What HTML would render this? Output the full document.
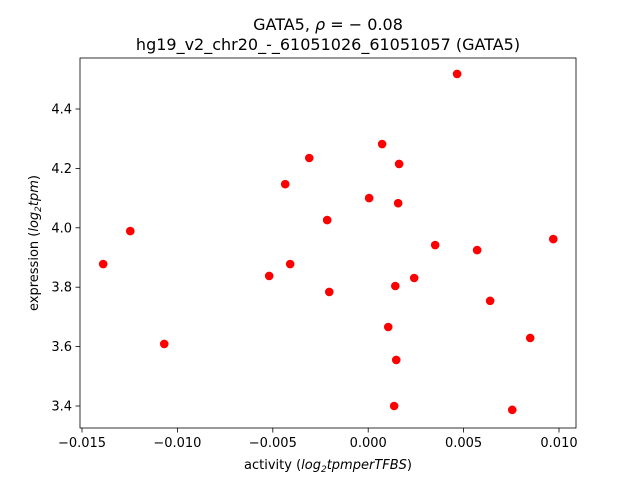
<!DOCTYPE html>
<html><head><meta charset="utf-8"><style>
html,body{margin:0;padding:0;background:#fff;}
svg{display:block;font-family:"DejaVu Sans","Liberation Sans",sans-serif;}
</style></head><body>
<svg id="chart" width="640" height="480">
<rect x="0" y="0" width="640" height="480" fill="#fff"/>
<text x="328" y="30" text-anchor="middle" font-size="16">GATA5, <tspan font-style="italic">ρ</tspan> = − 0.08</text>
<text x="328" y="50" text-anchor="middle" font-size="16">hg19_v2_chr20_-_61051026_61051057 (GATA5)</text>
<g id="ticks"></g>
<g id="points"></g>
<rect x="80" y="58" width="496" height="370" fill="none" stroke="#000" stroke-width="0.8"/>
<text x="328" y="469" text-anchor="middle" font-size="13">activity (<tspan font-style="italic">log</tspan><tspan font-size="9" dy="3" font-style="italic">2</tspan><tspan dy="-3" font-style="italic">tpmperTFBS</tspan>)</text>
<text transform="translate(38,243) rotate(-90)" text-anchor="middle" font-size="13">expression (<tspan font-style="italic">log</tspan><tspan font-size="9" dy="3" font-style="italic">2</tspan><tspan dy="-3" font-style="italic">tpm</tspan>)</text>
</svg>
<script>
const xTicks = [-0.015, -0.010, -0.005, 0.000, 0.005, 0.010];
const xTickLabels = ["−0.015", "−0.010", "−0.005", "0.000", "0.005", "0.010"];
const yTicks = [3.4, 3.6, 3.8, 4.0, 4.2, 4.4];
const yTickLabels = ["3.4", "3.6", "3.8", "4.0", "4.2", "4.4"];
const activity = [0.00466, 0.00073, 0.00162, -0.00309, -0.00435, 0.00005, 0.00157, -0.00215, -0.01247, 0.0097, 0.00351, 0.00571, -0.01389, -0.00409, -0.00519, 0.00241, -0.00204, 0.00142, 0.00639, 0.00105, 0.00849, -0.01069, 0.00147, 0.00136, 0.00755];
const expression = [4.518, 4.282, 4.215, 4.235, 4.147, 4.100, 4.083, 4.026, 3.989, 3.962, 3.942, 3.925, 3.878, 3.878, 3.838, 3.831, 3.784, 3.804, 3.754, 3.666, 3.629, 3.609, 3.555, 3.400, 3.387];
const NS = "http://www.w3.org/2000/svg";
function xs(v){ return 368.2 + v * 19080; }
function ys(v){ return 406 - (v - 3.4) * 297; }
const tg = document.getElementById("ticks");
xTicks.forEach((t,i)=>{
  const l = document.createElementNS(NS,"line");
  l.setAttribute("x1",xs(t)); l.setAttribute("x2",xs(t));
  l.setAttribute("y1",428); l.setAttribute("y2",432.5);
  l.setAttribute("stroke","#000"); l.setAttribute("stroke-width","0.8");
  
  
  tg.appendChild(l);
  const tx = document.createElementNS(NS,"text");
  tx.setAttribute("x",xs(t)); tx.setAttribute("y",447);
  tx.setAttribute("text-anchor","middle"); tx.setAttribute("font-size","13");
  tx.textContent = xTickLabels[i];
  
  
  tg.appendChild(tx);
});
yTicks.forEach((t,i)=>{
  const l = document.createElementNS(NS,"line");
  l.setAttribute("x1",75.5); l.setAttribute("x2",80);
  l.setAttribute("y1",ys(t)); l.setAttribute("y2",ys(t));
  l.setAttribute("stroke","#000"); l.setAttribute("stroke-width","0.8");
  
  
  tg.appendChild(l);
  const tx = document.createElementNS(NS,"text");
  tx.setAttribute("x",72); tx.setAttribute("y",ys(t)+4.5);
  tx.setAttribute("text-anchor","end"); tx.setAttribute("font-size","13");
  tx.textContent = yTickLabels[i];
  
  
  tg.appendChild(tx);
});
const pg = document.getElementById("points");
activity.forEach((a,i)=>{
  const c = document.createElementNS(NS,"circle");
  c.setAttribute("cx",xs(a)); c.setAttribute("cy",ys(expression[i]));
  c.setAttribute("r",4.3); c.setAttribute("fill","#ff0000");
  
  
  pg.appendChild(c);
});
</script>
</body></html>
